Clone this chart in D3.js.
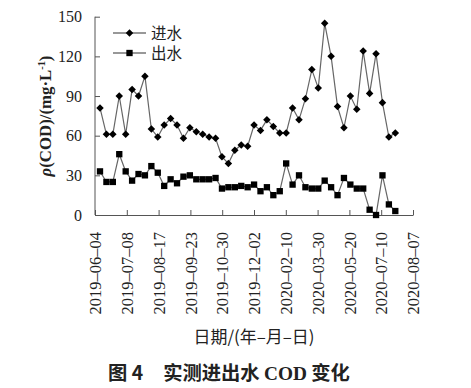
<!doctype html>
<html lang="zh">
  <head>
    <meta charset="utf-8">
    <title>实测进出水 COD 变化</title>
    <script src="https://d3js.org/d3.v7.min.js"></script>
    <style>
    body { margin: 0; background: #fff; }
    text { font-family: "Liberation Serif", "Times New Roman", serif; fill: #222; }
    .cjk { font-family: "Noto Sans CJK SC", sans-serif; }
    .axis path, .axis line { stroke: #555; }
    </style>
  </head>
  <body>
    <svg width="471" height="388"></svg>
    <script>
      // tick labels on the category axis
      var tickLabels = ['2019-06-04', '2019-07-08', '2019-08-17', '2019-09-23', '2019-10-30',
        '2019-12-02', '2020-02-10', '2020-03-30', '2020-05-20', '2020-07-10', '2020-08-07'];

      // COD, mg/L, one value per sampling
      var influent = [81, 61, 61, 90, 61, 95, 90, 105, 65, 59, 68, 73, 68, 58, 66, 63, 61, 59, 58,
        44, 39, 49, 53, 52, 68, 64, 72, 67, 62, 62, 81, 72, 88, 110, 96, 145, 120, 82, 66, 90,
        80, 124, 92, 122, 85, 59, 62];
      var effluent = [33, 25, 25, 46, 33, 26, 31, 30, 37, 32, 22, 27, 24, 29, 30, 27, 27, 27, 28,
        20, 21, 21, 22, 21, 23, 18, 21, 15, 18, 39, 23, 30, 21, 20, 20, 26, 21, 15, 28, 23,
        20, 20, 4, 0, 30, 8, 3];

      var yTicks = [0, 30, 60, 90, 120, 150];

      var svg = d3.select('svg');

      // shrink / grow a text's font so it spans the given width
      var fitWidth = function(sel, w){
        var fs = parseFloat(sel.style('font-size'));
        var len = sel.node().getComputedTextLength();
        sel.style('font-size', (fs * w / len).toFixed(2) + 'px');
      };

      var x = d3.scaleLinear().domain([0, influent.length - 1]).range([100, 395.3]);
      var xLab = d3.scalePoint().domain(tickLabels).range([95, 413]);
      var y = d3.scaleLinear().domain([0, 150]).range([215, 16.7]);

      // axes
      var xAxis = svg.append('g')
        .attr('class', 'axis')
        .attr('transform', 'translate(0,215)')
        .call(d3.axisBottom(xLab).tickSizeInner(-5).tickSizeOuter(0).tickFormat(''));
      xAxis.selectAll('.tick').append('text')
        .attr('transform', 'translate(0,17) rotate(-90)')
        .attr('text-anchor', 'end')
        .attr('dy', '0.35em')
        .style('font-size', '16.5px')
        .text(function(d){ return d.replace(/-/g, '\u2013'); });

      var yAxis = svg.append('g')
        .attr('class', 'axis')
        .attr('transform', 'translate(95,0)')
        .call(d3.axisLeft(y).tickValues(yTicks).tickSizeInner(-5).tickSizeOuter(0).tickPadding(13));
      yAxis.selectAll('text').style('font-size', '16px').attr('fill', '#222');
      yAxis.select('.domain').attr('d', 'M0,' + y(150) + 'V' + y(0));

      // lines
      var line = d3.line()
        .x(function(d, i){ return x(i); })
        .y(function(d){ return y(d); });

      svg.append('path').datum(influent)
        .attr('d', line)
        .attr('fill', 'none').attr('stroke', '#666').attr('stroke-width', 1.2);
      svg.append('path').datum(effluent)
        .attr('d', line)
        .attr('fill', 'none').attr('stroke', '#666').attr('stroke-width', 1.2);

      var diamond = d3.symbol().type(d3.symbolDiamond2).size(36);
      var square = d3.symbol().type(d3.symbolSquare).size(40);

      svg.append('g').selectAll('path').data(influent).enter()
        .append('path')
          .attr('d', diamond)
          .attr('transform', function(d, i){ return 'translate(' + x(i) + ',' + y(d) + ')'; })
          .attr('fill', '#000');

      svg.append('g').selectAll('path').data(effluent).enter()
        .append('path')
          .attr('d', square)
          .attr('transform', function(d, i){ return 'translate(' + x(i) + ',' + y(d) + ')'; })
          .attr('fill', '#000');

      // legend
      var legend = svg.append('g');
      [['进水', diamond, 33], ['出水', square, 53]].forEach(function(l){
        legend.append('line')
          .attr('x1', 113).attr('x2', 146).attr('y1', l[2]).attr('y2', l[2])
          .attr('stroke', '#333').attr('stroke-width', 1.2);
        legend.append('path')
          .attr('d', l[1])
          .attr('transform', 'translate(129.5,' + l[2] + ')')
          .attr('fill', '#000');
        legend.append('text')
          .attr('class', 'cjk')
          .attr('x', 151).attr('y', l[2])
          .attr('dy', '0.36em')
          .style('font-size', '15.5px')
          .text(l[0]);
      });

      // y title
      var yt = svg.append('text')
        .attr('transform', 'translate(51,116) rotate(-90)')
        .attr('text-anchor', 'middle')
        .style('font-size', '16px')
        .style('font-weight', 'bold');
      yt.append('tspan').style('font-style', 'italic').text('ρ');
      yt.append('tspan').text('(COD)/(mg·L');
      yt.append('tspan').attr('dy', -6).style('font-size', '0.62em').text('-1');
      yt.append('tspan').attr('dy', 6).text(')');
      fitWidth(yt, 121);

      // x title
      var xt = svg.append('text')
        .attr('class', 'cjk')
        .attr('x', 254).attr('y', 343)
        .attr('text-anchor', 'middle')
        .style('font-size', '15px')
        .attr('fill', '#555')
        .text('日期/(年–月–日)');
      fitWidth(xt, 121);

      // caption
      var cap = svg.append('text')
        .attr('class', 'cjk')
        .attr('x', 229).attr('y', 380)
        .attr('text-anchor', 'middle')
        .style('font-size', '16px')
        .style('font-weight', 'bold')
        .attr('fill', '#222');
      cap.append('tspan').text('图 4');
      cap.append('tspan').attr('dx', 20).text('实测进出水 ');
      cap.append('tspan').style('font-family', '"Liberation Serif", serif').text('COD');
      cap.append('tspan').text(' 变化');
      fitWidth(cap, 222);
    </script>
  </body>
</html>
